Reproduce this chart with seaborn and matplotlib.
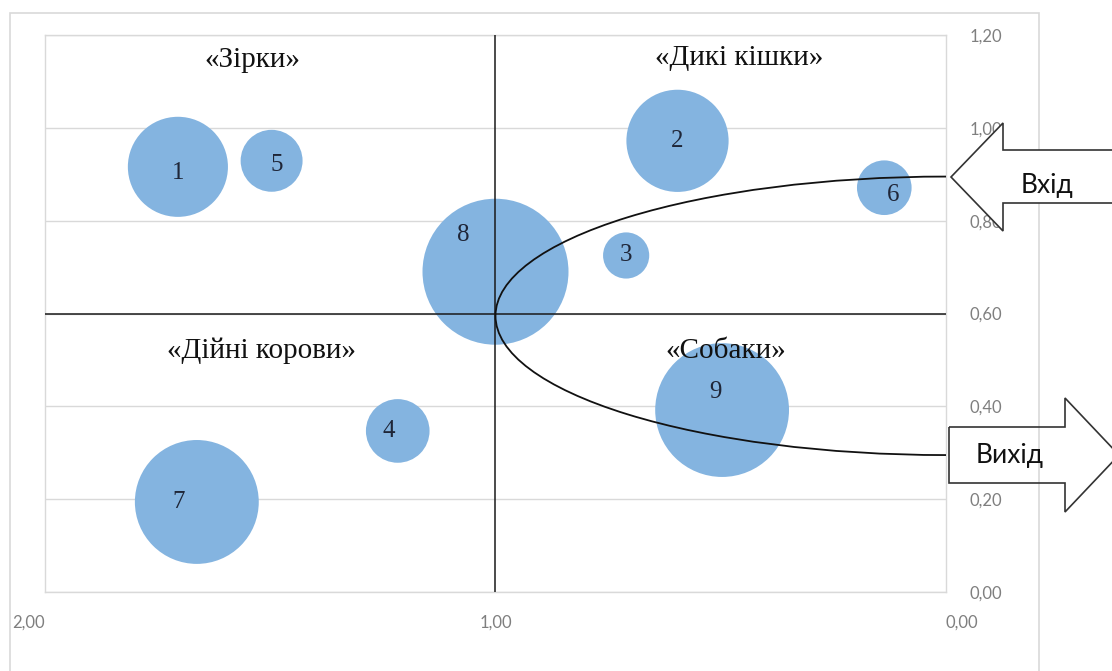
import matplotlib
matplotlib.use("Agg")
import matplotlib.pyplot as plt
from matplotlib.patches import Arc, Polygon, Rectangle
import pandas as pd
import seaborn as sns

##
# DATA
##
# x axis is reversed in the chart (2,00 on the left, 0,00 on the right)
labels = ["1", "2", "3", "4", "5", "6", "7", "8", "9"]
x_vals = [1.705, 0.596, 0.71, 1.217, 1.497, 0.137, 1.663, 1.0, 0.497]
y_vals = [0.916, 0.972, 0.725, 0.347, 0.929, 0.871, 0.194, 0.69, 0.392]
shares = [0.47, 0.49, 0.10, 0.19, 0.18, 0.14, 0.72, 1.00, 0.84]

quadrants = ["«Зірки»", "«Дикі кішки»", "«Дійні корови»", "«Собаки»"]
x_ticks = [2.0, 1.0, 0.0]
y_ticks = [0.0, 0.2, 0.4, 0.6, 0.8, 1.0, 1.2]

df = pd.DataFrame({"label": labels, "x": x_vals, "y": y_vals, "share": shares})

##
# LAYOUT
##
W, H = 1112, 671
BLUE = "#84b4e0"
SERIF = "Liberation Serif"
SANS = "Lato"

# where the quadrant captions sit (data units)
quad_pos = [(1.54, 1.147), (0.46, 1.15), (1.52, 0.52), (0.49, 0.52)]
# small nudges of bubble numbers away from the centre
label_nudge = {"1": (0, -0.013), "5": (-0.012, -0.01), "4": (0.02, 0),
               "7": (0.04, 0), "6": (-0.019, -0.015), "8": (0.071, 0.079),
               "9": (0.014, 0.039)}


def fig_xy(px, py):
    return (px / W, 1 - py / H)


sns.set_style("white")
fig = plt.figure(figsize=(W / 100, H / 100), dpi=100)
fig.patch.set_facecolor("white")

# outer chart frame
fig.patches.append(Rectangle(fig_xy(10, 700), 1029 / W, 687 / H,
                             transform=fig.transFigure, fill=False,
                             edgecolor="#d9d9d9", lw=1.2, zorder=0))

ax = fig.add_axes([45 / W, 1 - 592 / H, 901 / W, 557 / H])

sns.scatterplot(data=df, x="x", y="y", size="share", sizes=(0, 11050),
                size_norm=(0, 1), color=BLUE, linewidth=0, legend=False,
                ax=ax, zorder=2)

ax.set_xlim(2, 0)
ax.set_ylim(0, 1.2)
ax.set_xlabel("")
ax.set_ylabel("")

ax.set_xticks(x_ticks)
ax.set_xticklabels([f"{v:.2f}".replace(".", ",") for v in x_ticks])
for lab, ha in zip(ax.get_xticklabels(), ["right", "center", "left"]):
    lab.set_horizontalalignment(ha)
ax.set_yticks(y_ticks)
ax.set_yticklabels([f"{v:.2f}".replace(".", ",") for v in y_ticks])
ax.yaxis.tick_right()
ax.tick_params(axis="y", length=0, pad=17, labelsize=12, labelcolor="#7f7f7f")
ax.tick_params(axis="x", length=0, pad=16, labelsize=12, labelcolor="#7f7f7f")
for lab in ax.get_xticklabels() + ax.get_yticklabels():
    lab.set_fontfamily(SANS)

ax.grid(axis="y", color="#d9d9d9", lw=1)
ax.grid(axis="x", visible=False)
ax.set_axisbelow(True)
for sp in ax.spines.values():
    sp.set_color("#d9d9d9")
    sp.set_linewidth(1)

# quadrant dividers
ax.axvline(1.0, color="#1a1a1a", lw=1.1, zorder=3)
ax.axhline(0.6, color="#1a1a1a", lw=1.1, zorder=3)

# bubble numbers
for _, row in df.iterrows():
    dx, dy = label_nudge.get(row["label"], (0, 0))
    ax.text(row["x"] + dx, row["y"] + dy, row["label"], ha="center",
            va="center", fontsize=18, family=SERIF, color="#1f2638", zorder=4)

# quadrant captions
for name, (qx, qy) in zip(quadrants, quad_pos):
    ax.text(qx, qy, name, ha="center", va="center", fontsize=21,
            family=SERIF, color="#111111", zorder=4)

# entry / exit path
ax.add_patch(Arc((0, 0.595), 2.0, 0.6, theta1=-90, theta2=90,
                 color="#111111", lw=1.3, zorder=5, clip_on=False))

# block arrows outside the plot
arrow_in = [(951, 177), (1003, 123), (1003, 150), (1125, 150),
            (1125, 203), (1003, 203), (1003, 231)]
arrow_out = [(949, 427), (1065, 427), (1065, 398), (1119, 455),
             (1065, 512), (1065, 483), (949, 483)]
fig.patches.append(Polygon([fig_xy(*p) for p in arrow_in], closed=True,
                           transform=fig.transFigure, facecolor="white",
                           edgecolor="#333333", lw=1.2, zorder=5))
fig.patches.append(Polygon([fig_xy(*p) for p in arrow_out], closed=True,
                           transform=fig.transFigure, facecolor="none",
                           edgecolor="#333333", lw=1.2, zorder=5))
fig.text(*fig_xy(1047, 186), "Вхід", ha="center", va="center",
         fontsize=19, family=SANS, color="#111111", zorder=6)
fig.text(*fig_xy(1010, 455), "Вихід", ha="center", va="center",
         fontsize=19, family=SANS, color="#111111", zorder=6)

fig.savefig("out.png", dpi=100)
